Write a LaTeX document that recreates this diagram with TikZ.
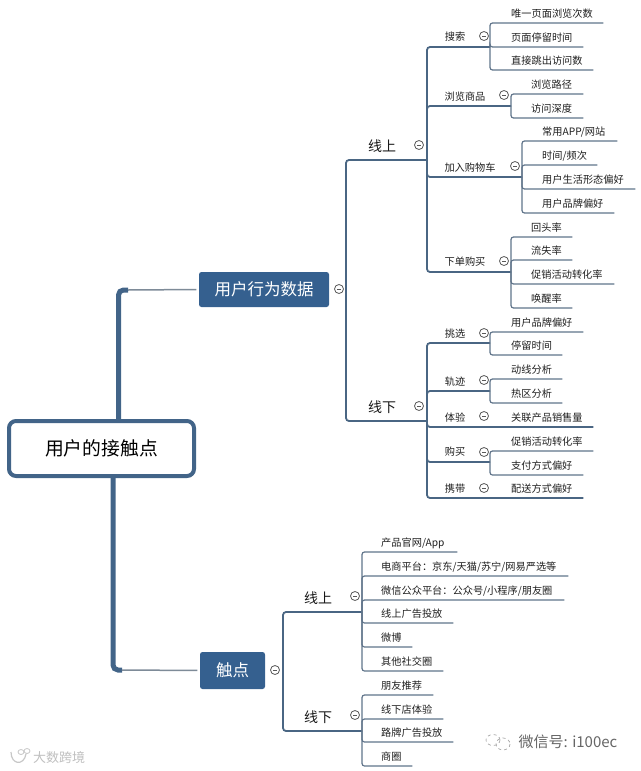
\documentclass[tikz,border=0pt]{standalone}
\usepackage{fontspec}
\setmainfont{Noto Sans CJK SC}
\usetikzlibrary{positioning}
\definecolor{boxblue}{HTML}{35608F}
\definecolor{rootblue}{HTML}{426488}
\definecolor{twigblue}{HTML}{4A6683}
\definecolor{leafgray}{HTML}{60748A}
\definecolor{stemgray}{HTML}{7E8B98}
\newcommand{\fs}[1]{\fontsize{#1}{#1}\selectfont}
\newcommand{\foldbar}{\rule{4.4pt}{0.7pt}}
\tikzset{
  rootbox/.style={draw=rootblue, line width=4pt, rounded corners=7pt, fill=white, align=center, minimum width=185pt, minimum height=55pt, inner sep=0pt, font=\fs{18.8}},
  mainbox/.style={fill=boxblue, text=white, rounded corners=2.5pt, align=center, inner sep=0pt, font=\fs{16.5}},
  branch/.style={inner sep=0pt, font=\fs{14}, text=black!90},
  twiglabel/.style={inner sep=0pt, font=\fs{10.2}, text=black!88},
  leaf/.style={anchor=south west, text width=#1, align=left, inner xsep=0pt, inner ysep=3.5pt, text depth=2pt, font=\fs{10.2}, text=black!88},
  fold/.style={draw=black!65, fill=white, circle, minimum size=9pt, inner sep=0pt, line width=0.8pt, text=black!65},
  trunk/.style={draw=rootblue, line width=5pt, rounded corners=5pt},
  stem/.style={draw=stemgray, line width=1.5pt, shorten >=2.5pt},
  limb/.style={draw=twigblue, line width=1.8pt, rounded corners=3pt},
  twig/.style={draw=leafgray, line width=1.2pt, rounded corners=2.5pt},
  stamp/.style={inner sep=0pt, text=black!#1}
}
\begin{document}
\begin{tikzpicture}[x=1pt,y=-1pt]
  \useasboundingbox (0,0) rectangle (640,771);

  \node[rootbox] (root) at (101.5,448.5) {用户的接触点};
  \node[mainbox, minimum width=130pt, minimum height=35pt] (data) at (264,289.5) {用户行为数据};
  \node[mainbox, minimum width=65pt, minimum height=37pt] (touch) at (232.5,670.5) {触点};

  \node[branch] (dataon) at (382,146) {线上};
  \node[branch] (dataoff) at (382,407) {线下};
  \node[branch] (touchon) at (318,598) {线上};
  \node[branch] (touchoff) at (318,717) {线下};

  \node[twiglabel] (sou) at (455,37) {搜索};
  \node[twiglabel] (liu) at (465,97) {浏览商品};
  \node[twiglabel] (cart) at (470,168) {加入购物车};
  \node[twiglabel] (buy) at (465,262) {下单购买};
  \node[twiglabel] (tiao) at (455,334) {挑选};
  \node[twiglabel] (gui) at (455,382) {轨迹};
  \node[twiglabel] (ti) at (455,418) {体验};
  \node[twiglabel] (gou) at (455,452) {购买};
  \node[twiglabel] (xie) at (455,489) {携带};

  \node[leaf=92pt] (sou1) at (511,23) {唯一页面浏览次数};
  \node[leaf=72pt] (sou2) at (511,47) {页面停留时间};
  \node[leaf=82pt] (sou3) at (511,70) {直接跳出访问数};
  \node[leaf=52pt] (liu1) at (531,94) {浏览路径};
  \node[leaf=52pt] (liu2) at (531,118) {访问深度};
  \node[leaf=75pt] (cart1) at (542,141) {常用APP/网站};
  \node[leaf=55pt] (cart2) at (542,165) {时间/频次};
  \node[leaf=93pt] (cart3) at (542,189) {用户生活形态偏好};
  \node[leaf=72pt] (cart4) at (542,213) {用户品牌偏好};
  \node[leaf=41pt] (buy1) at (531,237) {回头率};
  \node[leaf=41pt] (buy2) at (531,260) {流失率};
  \node[leaf=83pt] (buy3) at (531,284) {促销活动转化率};
  \node[leaf=41pt] (buy4) at (531,308) {唤醒率};
  \node[leaf=72pt] (tiao1) at (511,332) {用户品牌偏好};
  \node[leaf=51pt] (tiao2) at (511,355) {停留时间};
  \node[leaf=51pt] (gui1) at (511,379) {动线分析};
  \node[leaf=51pt] (gui2) at (511,403) {热区分析};
  \node[leaf=82pt] (ti1) at (511,427) {关联产品销售量};
  \node[leaf=82pt] (gou1) at (511,451) {促销活动转化率};
  \node[leaf=72pt] (gou2) at (511,475) {支付方式偏好};
  \node[leaf=72pt] (xie1) at (511,498) {配送方式偏好};

  \node[leaf=76pt] (on1) at (381,552) {产品官网/App};
  \node[leaf=187pt] (on2) at (381,576) {电商平台：京东/天猫/苏宁/网易严选等};
  \node[leaf=183pt] (on3) at (381,600) {微信公众平台：公众号/小程序/朋友圈};
  \node[leaf=72pt] (on4) at (381,623) {线上广告投放};
  \node[leaf=31pt] (on5) at (381,647) {微博};
  \node[leaf=62pt] (on6) at (381,671) {其他社交圈};
  \node[leaf=52pt] (off1) at (381,695) {朋友推荐};
  \node[leaf=62pt] (off2) at (381,719) {线下店体验};
  \node[leaf=72pt] (off3) at (381,742) {路牌广告投放};
  \node[leaf=31pt] (off4) at (381,766) {商圈};

  \coordinate (upstart) at (118.5,421);
  \coordinate (upend) at (128,290);
  \coordinate (downstart) at (113,477);
  \coordinate (downend) at (122,670);
  \draw[trunk] (upstart) |- (upend);
  \draw[trunk] (downstart) |- (downend);
  \draw[stem] (upend) -- (data.west);
  \draw[stem] (downend) -- (touch.west);

  \coordinate (datahub) at (346,289);
  \coordinate (onhub) at (427,160);
  \coordinate (offhub) at (427,421);
  \coordinate (touchhub) at (283,670);
  \coordinate (tonhub) at (362,612);
  \coordinate (toffhub) at (362,731);
  \draw[limb] (datahub) |- (onhub);
  \draw[limb] (datahub) |- (offhub);
  \draw[limb] (touchhub) |- (tonhub);
  \draw[limb] (touchhub) |- (toffhub);

  \coordinate (souhub) at (490,47);
  \coordinate (liuhub) at (511,106);
  \coordinate (carthub) at (522,177);
  \coordinate (buyhub) at (511,272);
  \coordinate (tiaohub) at (490,343);
  \coordinate (guihub) at (490,391);
  \coordinate (gouhub) at (490,462);
  \draw[limb] (onhub) |- (souhub);
  \draw[limb] (onhub) |- (liuhub);
  \draw[limb] (onhub) |- (carthub);
  \draw[limb] (onhub) |- (buyhub);
  \draw[limb] (offhub) |- (tiaohub);
  \draw[limb] (offhub) |- (guihub);
  \draw[limb] (offhub) |- (gouhub);
  \draw[limb] (offhub) |- (xie1.south east);
  \draw[limb] (offhub) |- (ti1.south east);

  \draw[twig] (souhub) |- (sou1.south east);
  \draw[twig] (souhub) |- (sou2.south east);
  \draw[twig] (souhub) |- (sou3.south east);
  \draw[twig] (liuhub) |- (liu1.south east);
  \draw[twig] (liuhub) |- (liu2.south east);
  \draw[twig] (carthub) |- (cart1.south east);
  \draw[twig] (carthub) |- (cart2.south east);
  \draw[twig] (carthub) |- (cart3.south east);
  \draw[twig] (carthub) |- (cart4.south east);
  \draw[twig] (buyhub) |- (buy1.south east);
  \draw[twig] (buyhub) |- (buy2.south east);
  \draw[twig] (buyhub) |- (buy3.south east);
  \draw[twig] (buyhub) |- (buy4.south east);
  \draw[twig] (tiaohub) |- (tiao1.south east);
  \draw[twig] (tiaohub) |- (tiao2.south east);
  \draw[twig] (guihub) |- (gui1.south east);
  \draw[twig] (guihub) |- (gui2.south east);
  \draw[twig] (gouhub) |- (gou1.south east);
  \draw[twig] (gouhub) |- (gou2.south east);

  \draw[twig] (tonhub) |- (on1.south east);
  \draw[twig] (tonhub) |- (on2.south east);
  \draw[twig] (tonhub) |- (on3.south east);
  \draw[twig] (tonhub) |- (on4.south east);
  \draw[twig] (tonhub) |- (on5.south east);
  \draw[twig] (tonhub) |- (on6.south east);
  \draw[twig] (toffhub) |- (off1.south east);
  \draw[twig] (toffhub) |- (off2.south east);
  \draw[twig] (toffhub) |- (off3.south east);
  \draw[twig] (toffhub) |- (off4.south east);

  \node[fold] (datafold) at (339,289) {\foldbar};
  \node[fold] (touchfold) at (275,670) {\foldbar};
  \node[fold] (donfold) at (419,145) {\foldbar};
  \node[fold] (dofffold) at (419,406) {\foldbar};
  \node[fold] (tonfold) at (355,596) {\foldbar};
  \node[fold] (tofffold) at (355,715) {\foldbar};
  \node[fold] (soufold) at (484,36) {\foldbar};
  \node[fold] (liufold) at (504,95) {\foldbar};
  \node[fold] (cartfold) at (515,166) {\foldbar};
  \node[fold] (buyfold) at (504,261) {\foldbar};
  \node[fold] (tiaofold) at (484,333) {\foldbar};
  \node[fold] (guifold) at (484,380) {\foldbar};
  \node[fold] (tifold) at (484,416) {\foldbar};
  \node[fold] (goufold) at (484,452) {\foldbar};
  \node[fold] (xiefold) at (484,488) {\foldbar};

  \node[stamp=60, font=\fs{15}] (wechat) at (568,742) {微信号: i100ec};
  \node[stamp=25, font=\fs{13}] (brand) at (59,758) {大数跨境};
  \draw[black!35, dashed, line width=0.7pt] (493,740) ellipse (7 and 5.5);
  \draw[black!35, dashed, line width=0.7pt] (503,744) ellipse (7 and 6);
  \draw[black!22, line width=1.2pt] (11,752) .. controls (11,765) and (24,766) .. (26,754);
  \draw[black!22, line width=0.8pt] (21,752) ellipse (3 and 2.5);
  \draw[black!22, line width=0.8pt] (27,751) ellipse (3 and 2.5);
\end{tikzpicture}
\end{document}
